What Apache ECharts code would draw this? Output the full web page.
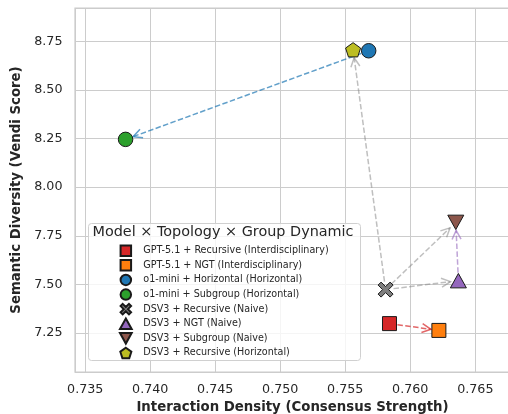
<!DOCTYPE html>
<html><head><meta charset="utf-8">
<script src="https://cdn.jsdelivr.net/npm/echarts@6.0.0/dist/echarts.min.js"></script>
<style>html,body{margin:0;padding:0;background:#fff}#c{width:508px;height:414px}</style>
</head><body><div id="c"></div>
<script>
// ---- data ----
const seriesNames = [
  'GPT-5.1 + Recursive (Interdisciplinary)',
  'GPT-5.1 + NGT (Interdisciplinary)',
  'o1-mini + Horizontal (Horizontal)',
  'o1-mini + Subgroup (Horizontal)',
  'DSV3 + Recursive (Naive)',
  'DSV3 + NGT (Naive)',
  'DSV3 + Subgroup (Naive)',
  'DSV3 + Recursive (Horizontal)'
];
const densityValues   = [0.7584, 0.7622, 0.7568, 0.7381, 0.7581, 0.7637, 0.7635, 0.7556];
const diversityValues = [7.298, 7.263, 8.702, 8.246, 7.473, 7.519, 7.819, 8.707];
const arrowFrom = [0, 2, 4, 4, 4, 5];
const arrowTo   = [1, 3, 7, 6, 5, 6];
const legendTitle = 'Model × Topology × Group Dynamic';
const xAxisTitle = 'Interaction Density (Consensus Strength)';
const yAxisTitle = 'Semantic Diversity (Vendi Score)';

// ---- styles ----
const markerColors = ['#d62728','#ff7f0e','#1f77b4','#2ca02c','#7f7f7f','#9467bd','#8c564b','#bcbd22'];
const SQ_PATH = 'path://M0,0 L100,0 L100,100 L0,100 Z';
const X_PATH = 'path://M20,0 L50,30 L80,0 L100,20 L70,50 L100,80 L80,100 L50,70 L20,100 L0,80 L30,50 L0,20 Z';
const PENT_PATH = 'path://M50,0 L97.6,34.5 L79.4,90.5 L20.6,90.5 L2.4,34.5 Z';
const DOWN_TRI = 'path://M0,0 L100,0 L50,90 Z';
const UP_TRI = 'path://M50,0 L100,90 L0,90 Z';
const markerSymbols = [SQ_PATH,SQ_PATH,'circle','circle',X_PATH,UP_TRI,DOWN_TRI,PENT_PATH];
const markerSizes = [14,14,14.5,14.5,15,16,16,15];
const arrowColors = ['rgba(214,39,40,0.7)','rgba(31,119,180,0.7)','rgba(127,127,127,0.5)','rgba(127,127,127,0.5)','rgba(127,127,127,0.5)','rgba(148,103,189,0.6)'];
const FONT = 'DejaVu Sans';
const TXT = '#262626';

const chart = echarts.init(document.getElementById('c'), null, {renderer:'canvas'});

const arrowData = arrowFrom.map((f,i)=>[densityValues[f], diversityValues[f], densityValues[arrowTo[i]], diversityValues[arrowTo[i]]]);

const scatterSeries = seriesNames.map((n,i)=>({
  name:n, type:'scatter', z:3,
  data:[[densityValues[i], diversityValues[i]]],
  symbol:markerSymbols[i], symbolSize:markerSizes[i], symbolKeepAspect:true,
  itemStyle:{color:markerColors[i], borderColor:'#1a1a1a', borderWidth:1, opacity:1},
  emphasis:{disabled:true}, silent:true
}));

const option = {
  animation:false,
  backgroundColor:'#fff',
  textStyle:{fontFamily:FONT},
  grid:{left:75, top:8, right:-2, bottom:42, outerBoundsMode:'none', containLabel:false, show:true, borderColor:'#cccccc', borderWidth:1.25, backgroundColor:'transparent'},
  xAxis:{
    type:'value', min:0.73421, max:0.76767, splitNumber:7, minInterval:0.005, maxInterval:0.005,
    axisLine:{show:false}, axisTick:{show:false},
    splitLine:{show:true, lineStyle:{color:'#cccccc', width:1}},
    axisLabel:{showMinLabel:false, showMaxLabel:false, margin:11, color:TXT, fontSize:12.7, fontFamily:FONT, formatter:v=>v.toFixed(3)},
    name:xAxisTitle, nameLocation:'middle', nameGap:28.5,
    nameTextStyle:{fontWeight:'bold', fontSize:13.3, color:TXT, fontFamily:FONT}
  },
  yAxis:{
    type:'value', min:7.049, max:8.922, splitNumber:7, minInterval:0.25, maxInterval:0.25,
    axisLine:{show:false}, axisTick:{show:false},
    splitLine:{show:true, lineStyle:{color:'#cccccc', width:1}},
    axisLabel:{showMinLabel:false, showMaxLabel:false, margin:12.5, color:TXT, fontSize:12.7, fontFamily:FONT, formatter:v=>v.toFixed(2)},
    name:yAxisTitle, nameLocation:'middle', nameGap:46,
    nameTextStyle:{fontWeight:'bold', fontSize:13.3, color:TXT, fontFamily:FONT}
  },
  legend:{
    data:seriesNames, orient:'vertical', left:119, top:244.5, padding:0,
    itemWidth:25, itemHeight:10.5, itemGap:2.1, selectedMode:false, z:6,
    textStyle:{fontSize:9.6, color:TXT, fontFamily:FONT}
  },
  graphic:[
    {type:'rect', z:5, left:88, top:223, shape:{width:272, height:137, r:3}, style:{fill:'rgba(255,255,255,0.8)', stroke:'#d0d0d0', lineWidth:1}},
    {type:'text', z:6, left:92.5, top:225, style:{text:legendTitle, font:'14.4px "DejaVu Sans"', fill:TXT}}
  ],
  series:[
    {
      type:'custom', z:2, silent:true,
      data:arrowData,
      encode:{x:[0,2], y:[1,3]},
      renderItem:function(params, api){
        const p1 = api.coord([api.value(0), api.value(1)]);
        const p2 = api.coord([api.value(2), api.value(3)]);
        const dx = p2[0]-p1[0], dy = p2[1]-p1[1];
        const len = Math.hypot(dx,dy), ux = dx/len, uy = dy/len;
        const s = [p1[0]+ux*8, p1[1]+uy*8];
        const e = [p2[0]-ux*8, p2[1]-uy*8];
        const hl = 9, hw = 4.5;
        const b = [e[0]-ux*hl, e[1]-uy*hl];
        const w1 = [b[0]-uy*hw, b[1]+ux*hw], w2 = [b[0]+uy*hw, b[1]-ux*hw];
        const c = arrowColors[params.dataIndex];
        return {type:'group', children:[
          {type:'polyline', shape:{points:[s,e]}, style:{stroke:c, lineWidth:1.5, lineDash:[5.5,2.4], fill:null}},
          {type:'polyline', shape:{points:[w1,e,w2]}, style:{stroke:c, lineWidth:1.5, fill:null}}
        ]};
      }
    }
  ].concat(scatterSeries)
};
chart.setOption(option);
</script>
</body></html>
